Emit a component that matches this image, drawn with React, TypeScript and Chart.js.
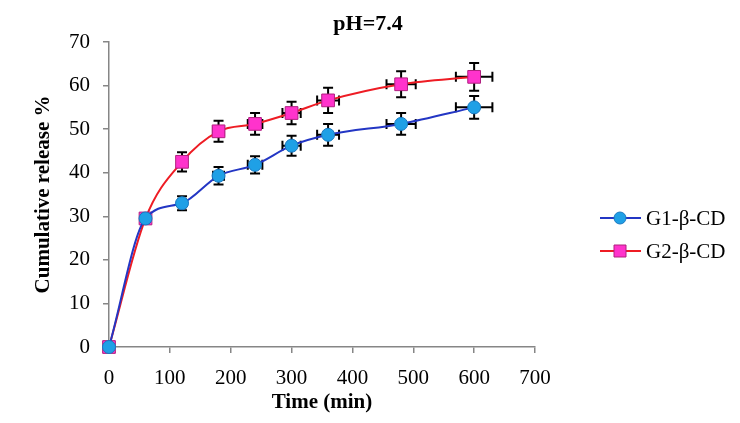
import React, { useEffect, useRef } from "react";
import { Chart, registerables } from "chart.js";

Chart.register(...registerables);

const times = [0, 60, 120, 180, 240, 300, 360, 480, 600];
const g1Values = [0, 29.5, 33, 39.3, 41.8, 46.2, 48.7, 51.2, 55];
const g2Values = [0, 29.5, 42.5, 49.5, 51.2, 53.7, 56.6, 60.3, 62];
const g1YErr = [0, 1, 1.6, 2, 2, 2.3, 2.5, 2.5, 2.6];
const g2YErr = [0, 1, 2.2, 2.4, 2.5, 2.6, 2.9, 3, 3.2];
const timeErr = [0, 3, 6, 9, 12, 15, 18, 24, 30];
const seriesLabels = ["G1-β-CD", "G2-β-CD"];
const chartTitle = "pH=7.4";
const xTitle = "Time (min)";
const yTitle = "Cumulative release %";

const FONT = "'Liberation Serif', 'Times New Roman', serif";

const errorBarPlugin = {
  id: "errorBars",
  beforeDatasetsDraw(chart: any) {
    const { ctx, scales } = chart;
    const xs = scales.x;
    const ys = scales.y;
    const errs = [g1YErr, g2YErr];
    ctx.save();
    ctx.strokeStyle = "#000";
    ctx.lineWidth = 2;
    chart.data.datasets.forEach((ds: any, di: number) => {
      ds.data.forEach((p: any, i: number) => {
        const ye = errs[di][i];
        const xe = timeErr[i];
        const cx = xs.getPixelForValue(p.x);
        const cy = ys.getPixelForValue(p.y);
        const cap = 5;
        if (ye > 0) {
          const t = ys.getPixelForValue(p.y + ye);
          const b = ys.getPixelForValue(p.y - ye);
          ctx.beginPath();
          ctx.moveTo(cx, t);
          ctx.lineTo(cx, b);
          ctx.moveTo(cx - cap, t);
          ctx.lineTo(cx + cap, t);
          ctx.moveTo(cx - cap, b);
          ctx.lineTo(cx + cap, b);
          ctx.stroke();
        }
        if (xe > 0) {
          const l = xs.getPixelForValue(p.x - xe);
          const r = xs.getPixelForValue(p.x + xe);
          ctx.beginPath();
          ctx.moveTo(l, cy);
          ctx.lineTo(r, cy);
          ctx.moveTo(l, cy - cap);
          ctx.lineTo(l, cy + cap);
          ctx.moveTo(r, cy - cap);
          ctx.lineTo(r, cy + cap);
          ctx.stroke();
        }
      });
    });
    ctx.restore();
  },
};

const customTextPlugin = {
  id: "customText",
  afterDraw(chart: any) {
    const { ctx } = chart;
    ctx.save();
    ctx.fillStyle = "#000";
    ctx.font = `bold 22px ${FONT}`;
    ctx.textAlign = "center";
    ctx.textBaseline = "middle";
    ctx.fillText(chartTitle, 368, 24);
    const rows = [218, 251];
    chart.data.datasets.forEach((ds: any, i: number) => {
      const y = rows[i];
      ctx.strokeStyle = ds.borderColor;
      ctx.lineWidth = 2;
      ctx.beginPath();
      ctx.moveTo(600, y);
      ctx.lineTo(641, y);
      ctx.stroke();
      ctx.fillStyle = ds.pointBackgroundColor;
      ctx.strokeStyle = ds.pointBorderColor;
      ctx.lineWidth = 1;
      if (ds.pointStyle === "rect") {
        ctx.beginPath();
        ctx.rect(614, y - 6, 12, 12);
        ctx.fill();
        ctx.stroke();
      } else {
        ctx.beginPath();
        ctx.arc(620, y, 6, 0, Math.PI * 2);
        ctx.fill();
        ctx.stroke();
      }
      ctx.fillStyle = "#000";
      ctx.font = `21px ${FONT}`;
      ctx.textAlign = "left";
      ctx.textBaseline = "middle";
      ctx.fillText(ds.label, 646, y + 1);
    });
    ctx.restore();
  },
};

export default function App() {
  const canvasRef = useRef<HTMLCanvasElement | null>(null);
  useEffect(() => {
    if (!canvasRef.current) return;
    const chart = new Chart(canvasRef.current, {
      type: "line",
      data: {
        datasets: [
          {
            label: seriesLabels[0],
            data: times.map((t, i) => ({ x: t, y: g1Values[i] })),
            borderColor: "#2336C4",
            borderWidth: 2,
            pointStyle: "circle",
            pointRadius: 6.5,
            pointBackgroundColor: "#1FA0E6",
            pointBorderColor: "#1A78C0",
            pointBorderWidth: 1,
            cubicInterpolationMode: "monotone",
            clip: false,
          } as any,
          {
            label: seriesLabels[1],
            data: times.map((t, i) => ({ x: t, y: g2Values[i] })),
            borderColor: "#EE1C24",
            borderWidth: 2,
            pointStyle: "rect",
            pointRadius: 9,
            pointBackgroundColor: "#FF33CC",
            pointBorderColor: "#B0207F",
            pointBorderWidth: 1,
            cubicInterpolationMode: "monotone",
            clip: false,
          } as any,
        ],
      },
      options: {
        animation: false,
        responsive: true,
        maintainAspectRatio: false,
        layout: { padding: { top: 42, right: 205, left: 0, bottom: 8 } },
        plugins: {
          legend: { display: false },
          title: { display: false },
          tooltip: { enabled: false },
        },
        scales: {
          x: {
            type: "linear",
            min: 0,
            max: 700,
            border: { color: "#868686", width: 1.5 },
            grid: { display: true, drawOnChartArea: false, drawTicks: true, tickLength: 6, color: "#868686", lineWidth: 1.5 },
            ticks: {
              stepSize: 100,
              color: "#000",
              padding: 13,
              font: { family: FONT, size: 21 },
            },
            title: {
              display: true,
              text: xTitle,
              color: "#000",
              font: { family: FONT, size: 21, weight: "bold" },
              padding: { top: 0, bottom: 0 },
            },
            afterFit(scale: any) {
              scale.height = 68;
            },
          },
          y: {
            type: "linear",
            min: 0,
            max: 70,
            border: { color: "#868686", width: 1.5 },
            grid: { display: true, drawOnChartArea: false, drawTicks: true, tickLength: 6, color: "#868686", lineWidth: 1.5 },
            ticks: {
              stepSize: 10,
              color: "#000",
              padding: 13,
              font: { family: FONT, size: 21 },
            },
            title: {
              display: true,
              text: yTitle,
              color: "#000",
              font: { family: FONT, size: 21, weight: "bold" },
              padding: { top: 31, bottom: 0 },
            },
            afterFit(scale: any) {
              scale.width = 109;
            },
          },
        },
      } as any,
      plugins: [errorBarPlugin, customTextPlugin],
    });
    return () => chart.destroy();
  }, []);
  return (
    <div style={{ position: "fixed", left: 0, top: 0, width: 740, height: 423, background: "#fff" }}>
      <canvas ref={canvasRef} />
    </div>
  );
}
